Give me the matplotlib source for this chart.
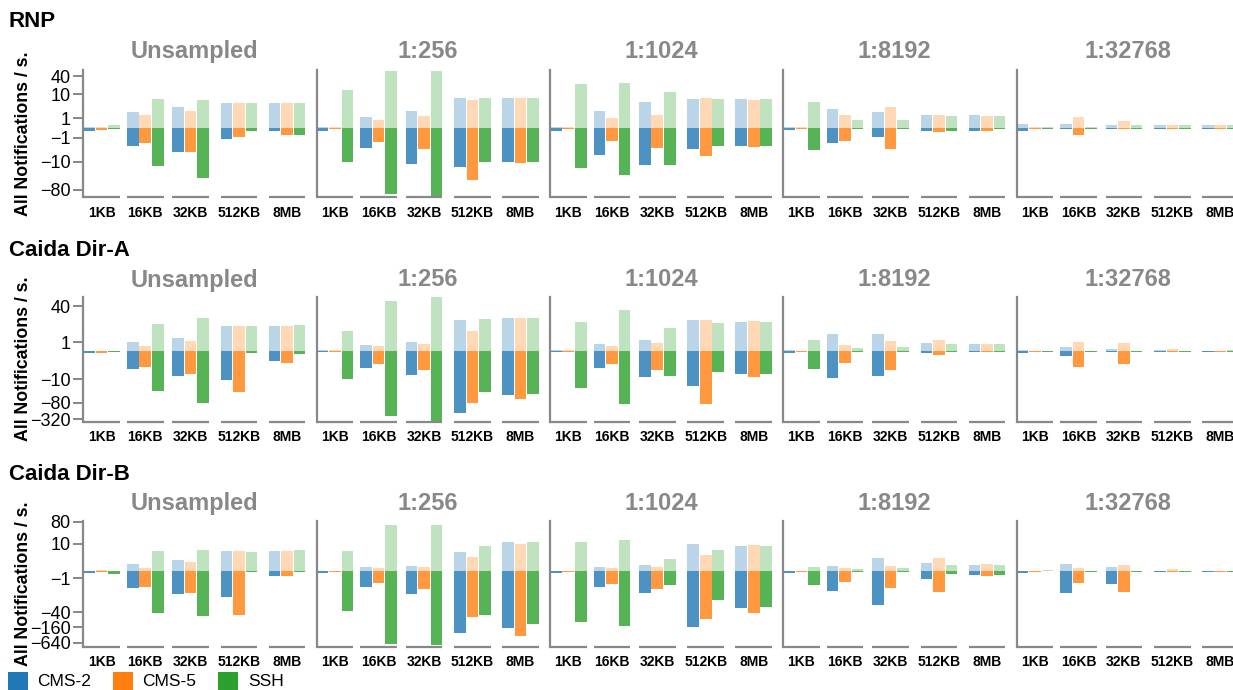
import numpy as np
import matplotlib
matplotlib.use("Agg")
import matplotlib.pyplot as plt
from matplotlib.patches import Rectangle
from matplotlib.ticker import NullLocator

plt.rcParams['font.family'] = ['Liberation Sans', 'DejaVu Sans']

# categories
datasets = ["RNP", "Caida Dir-A", "Caida Dir-B"]
samplings = ["Unsampled", "1:256", "1:1024", "1:8192", "1:32768"]
sizes = ["1KB", "16KB", "32KB", "512KB", "8MB"]
series = ["CMS-2", "CMS-5", "SSH"]
colors = ["#1f77b4", "#ff7f0e", "#2ca02c"]

# values: one row per sampling rate, one column per size
# "up" = positive part (light), "down" = negative part (dark)
rnp_cms2_up = [[0.11, 2.1, 3.5, 5.0, 5.0],
               [0.11, 1.13, 2.3, 7.3, 7.3],
               [0.11, 2.3, 5.3, 6.8, 6.8],
               [0.11, 2.8, 2.05, 1.46, 1.46],
               [0.29, 0.29, 0.2, 0.2, 0.2]]
rnp_cms2_down = [[-0.2, -2.5, -4.7, -1.23, -0.2],
                 [-0.2, -3.1, -11.9, -14.9, -10.1],
                 [-0.2, -5.7, -12.8, -3.4, -2.5],
                 [-0.17, -1.84, -0.84, -0.23, -0.2],
                 [-0.2, -0.11, -0.11, -0.08, -0.08]]
rnp_cms5_up = [[0.1, 1.46, 2.4, 5.0, 5.0],
               [0.1, 0.84, 1.3, 6.2, 7.3],
               [0.1, 0.98, 1.46, 7.3, 6.2],
               [0.1, 1.46, 3.4, 1.46, 1.3],
               [0.11, 1.13, 0.6, 0.2, 0.2]]
rnp_cms5_down = [[-0.14, -2.0, -4.7, -0.93, -0.6],
                 [-0.11, -1.64, -3.4, -38.7, -10.9],
                 [-0.11, -1.46, -3.06, -6.2, -2.8],
                 [-0.11, -1.46, -3.4, -0.29, -0.2],
                 [-0.11, -0.6, -0.11, -0.08, -0.08]]
rnp_ssh_up = [[0.23, 6.8, 6.2, 5.0, 5.0],
              [13.9, 57, 61.6, 7.3, 7.3],
              [21.9, 23.5, 11.9, 6.8, 6.8],
              [5.4, 0.72, 0.84, 1.3, 1.3],
              [0.08, 0.1, 0.2, 0.2, 0.2]]
rnp_ssh_down = [[-0.09, -13.9, -33.4, -0.26, -0.6],
                [-10.1, -110, -144, -10.1, -10.1],
                [-16.1, -27.4, -12.8, -2.5, -2.5],
                [-3.7, -0.11, -0.11, -0.2, -0.11],
                [-0.08, -0.08, -0.08, -0.08, -0.08]]

dira_cms2_up = [[0, 1.14, 2.0, 6.65, 6.65],
                [0.05, 0.66, 1.14, 11.7, 14.1],
                [0.05, 0.81, 1.54, 11.7, 9.7],
                [0.09, 3.2, 3.2, 0.97, 0.81],
                [0.09, 0.4, 0.18, 0.05, 0]]
dira_cms2_down = [[-0.25, -3.5, -7.3, -10.7, -1.33],
                  [-0.15, -3.2, -6.65, -190, -40.6],
                  [-0.15, -3.2, -8.05, -18.4, -6.0],
                  [-0.18, -8.9, -7.3, -0.18, -0.12],
                  [-0.18, -0.53, -0.12, -0.15, -0.15]]
dira_cms5_up = [[0, 0.53, 1.33, 6.65, 6.65],
                [0.05, 0.53, 0.81, 4.0, 14.1],
                [0.05, 0.53, 0.97, 11.7, 10.7],
                [0, 0.66, 1.33, 1.54, 0.81],
                [0, 1.14, 0.97, 0.12, 0]]
dira_cms5_down = [[-0.18, -3.1, -6.0, -31.3, -1.76],
                  [-0.15, -2.0, -4.0, -81, -57.5],
                  [-0.15, -2.0, -4.0, -88, -8.05],
                  [-0.15, -1.76, -4.0, -0.4, -0.12],
                  [-0.15, -2.9, -2.0, -0.15, -0.15]]
dira_ssh_up = [[0, 8.05, 14.1, 6.65, 7.3],
               [4.0, 62.5, 88, 12.8, 14.1],
               [9.7, 28.7, 5.45, 8.9, 9.7],
               [1.54, 0.29, 0.4, 0.81, 0.81],
               [0, 0, 0, 0, 0.1]]
dira_ssh_down = [[-0.12, -28.7, -81, -0.18, -0.29],
                 [-9.7, -246, -390, -31.3, -37.3],
                 [-22, -88, -7.3, -4.93, -6.0],
                 [-3.6, -0.15, -0.15, -0.15, -0.15],
                 [-0.15, -0.15, -0.15, -0.15, -0.15]]

dirb_cms2_up = [[0, 0.8, 1.58, 4.8, 4.8],
                [0, 0.37, 0.5, 4.3, 12.0],
                [0, 0.37, 0.64, 9.9, 8.1],
                [0, 0.5, 2.08, 0.97, 0.64],
                [0, 0.8, 0.37, 0, 0]]
dirb_cms2_down = [[-0.25, -3.7, -7.3, -9.6, -0.64],
                  [-0.25, -3.4, -7.3, -278, -171],
                  [-0.25, -3.4, -6.6, -161, -28.3],
                  [-0.25, -5.3, -21.4, -1.15, -0.5],
                  [-0.25, -6.6, -2.38, -0.15, -0.15]]
dirb_cms5_up = [[0.05, 0.25, 1.15, 4.8, 4.8],
                [0, 0.25, 0.37, 2.38, 9.9],
                [0, 0.25, 0.37, 3.04, 8.9],
                [0, 0.25, 0.5, 2.08, 0.8],
                [0, 0.25, 0.64, 0.14, 0]]
dirb_cms5_down = [[-0.14, -3.3, -6.6, -52.5, -0.64],
                  [-0.14, -2.08, -4.3, -65, -353],
                  [-0.14, -2.38, -4.3, -78, -45],
                  [-0.14, -1.82, -3.85, -5.9, -0.64],
                  [-0.14, -2.08, -5.9, -0.15, -0.15]]
dirb_ssh_up = [[0, 4.8, 5.3, 4.3, 5.3],
               [4.8, 59.3, 59.3, 8.1, 12.0],
               [12.0, 14.6, 1.82, 5.3, 8.1],
               [0.37, 0.14, 0.25, 0.64, 0.64],
               [0.1, 0, 0, 0, 0]]
dirb_ssh_down = [[-0.37, -43.7, -57.5, -0.15, -0.15],
                 [-37.5, -750, -822, -54, -123],
                 [-102, -147, -2.7, -13.3, -25.8],
                 [-2.7, -0.15, -0.15, -0.37, -0.5],
                 [0, -0.15, -0.15, -0.15, -0.15]]

up_values = [[rnp_cms2_up, rnp_cms5_up, rnp_ssh_up],
             [dira_cms2_up, dira_cms5_up, dira_ssh_up],
             [dirb_cms2_up, dirb_cms5_up, dirb_ssh_up]]
down_values = [[rnp_cms2_down, rnp_cms5_down, rnp_ssh_down],
               [dira_cms2_down, dira_cms5_down, dira_ssh_down],
               [dirb_cms2_down, dirb_cms5_down, dirb_ssh_down]]

row_ticks = [[40, 10, 1, -1, -10, -80],
             [40, 1, -10, -80, -320],
             [80, 10, -1, -40, -160, -640]]
row_ylim = [(-142, 60), (-390, 92), (-916, 88)]


def symlog_fwd(y):
    y = np.asarray(y, dtype=float)
    return np.sign(y) * np.log1p(np.abs(y))


def symlog_inv(y):
    y = np.asarray(y, dtype=float)
    return np.sign(y) * np.expm1(np.abs(y))


def tick_text(v):
    return str(v) if v > 0 else "\u2212" + str(abs(v))


# layout in pixels
W_PX, H_PX = 1233, 690
panel_left = 83.3
panel_step = 233.3
panel_w = 222.2
row_top = [70.5, 296.7, 520.7]
row_bot = [197.5, 421.7, 646.7]
row_title_y = [21.7, 250, 475]
col_title_y = [51.7, 280, 503.3]
group_x = [0, 43.6, 89, 137.5, 185.5]
bar_w = 11.6
bar_step = 12.5
group_w = 2 * bar_step + bar_w
gray = "#888888"

fig = plt.figure(figsize=(W_PX / 100, H_PX / 100), dpi=100)

for r, dataset in enumerate(datasets):
    fig.text(9 / W_PX, 1 - row_title_y[r] / H_PX, dataset, ha="left", va="center",
             fontsize=16, fontweight="bold", color="black")
    fig.text(24 / W_PX, 1 - ((row_top[r] + row_bot[r]) / 2) / H_PX,
             "All Notifications / s.", rotation=90, ha="center", va="center",
             fontsize=12.8, fontweight="bold")
    for c, samp in enumerate(samplings):
        left = panel_left + c * panel_step
        ax = fig.add_axes([left / W_PX, 1 - row_bot[r] / H_PX, panel_w / W_PX,
                           (row_bot[r] - row_top[r]) / H_PX])
        ax.set_yscale("function", functions=(symlog_fwd, symlog_inv))
        for s in range(len(series)):
            xs = [gx + s * bar_step for gx in group_x]
            ax.bar(xs, up_values[r][s][c], width=bar_w, align="edge",
                   color=colors[s], alpha=0.3, linewidth=0)
            ax.bar(xs, down_values[r][s][c], width=bar_w, align="edge",
                   color=colors[s], alpha=0.8, linewidth=0)
        ax.set_xlim(0, panel_w)
        ax.set_ylim(*row_ylim[r])

        for sp in ["top", "right", "bottom"]:
            ax.spines[sp].set_visible(False)
        ax.spines["left"].set_color(gray)
        ax.spines["left"].set_linewidth(1.6)
        for gx in group_x:
            ax.plot([gx, gx + group_w], [0, 0], transform=ax.get_xaxis_transform(),
                    color=gray, lw=1.6, clip_on=False, solid_capstyle="butt")

        ax.set_xticks([gx + group_w / 2 for gx in group_x])
        ax.set_xticklabels(sizes, fontsize=10, fontweight="bold")
        ax.tick_params(axis="x", length=0, pad=6)
        ax.yaxis.set_minor_locator(NullLocator())
        if c == 0:
            ax.set_yticks(row_ticks[r])
            ax.set_yticklabels([tick_text(v) for v in row_ticks[r]])
            ax.tick_params(axis="y", length=7, width=1.4, color=gray,
                           labelsize=13, pad=2)
        else:
            ax.set_yticks([])

        fig.text((left + panel_w / 2) / W_PX, 1 - col_title_y[r] / H_PX, samp,
                 ha="center", va="center", fontsize=17, fontweight="bold", color=gray)

# legend
leg_box_x = [8, 113, 218]
leg_text_x = [37, 142, 248]
for i, name in enumerate(series):
    fig.add_artist(Rectangle((leg_box_x[i] / W_PX, 1 - 692 / H_PX), 20 / W_PX, 20 / H_PX,
                             transform=fig.transFigure, color=colors[i], lw=0))
    fig.text(leg_text_x[i] / W_PX, 1 - 681 / H_PX, name, ha="left", va="center",
             fontsize=12.5)

fig.savefig("out.png", dpi=100)
